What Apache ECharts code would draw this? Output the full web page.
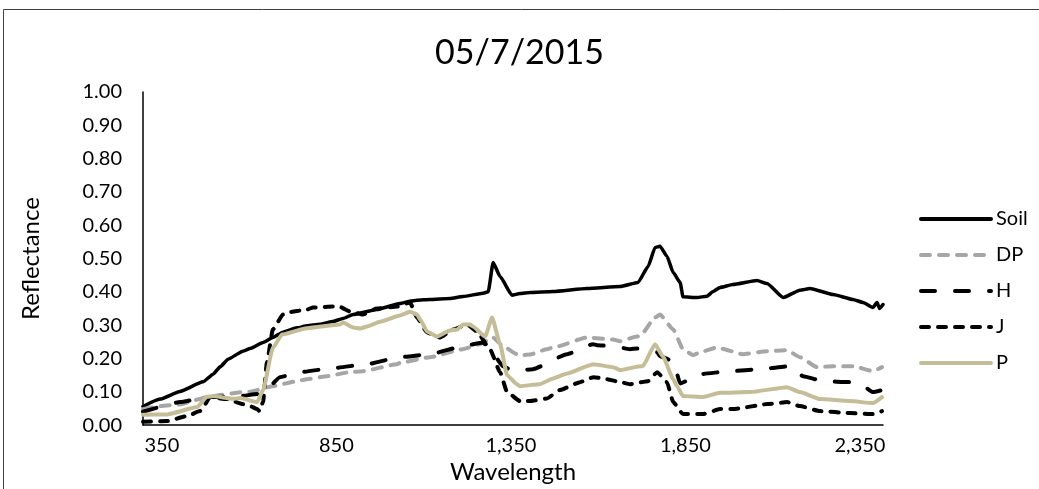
<!DOCTYPE html>
<html>
<head>
<meta charset="utf-8">
<title>05/7/2015</title>
<script src="https://cdn.jsdelivr.net/npm/echarts@6/dist/echarts.min.js"></script>
<style>
  html, body { margin: 0; padding: 0; background: #fff; }
  #chart { width: 1039px; height: 489px; }
</style>
</head>
<body>
<div id="chart"></div>
<script>
// Reflectance spectra, 05/7/2015 — wavelength (nm) vs reflectance
const xTicks = [350, 850, 1350, 1850, 2350];

const soilWl = [296, 345, 402, 468, 497, 517, 540, 582, 603, 640, 668, 697, 737, 766, 803, 840, 869, 898, 966, 1032, 1061, 1081, 1118, 1175, 1213, 1270, 1285, 1299, 1319, 1353, 1376, 1405, 1471, 1568, 1663, 1714, 1743, 1763, 1777, 1797, 1815, 1835, 1843, 1883, 1912, 1929, 1949, 1986, 2055, 2084, 2130, 2178, 2207, 2273, 2330, 2359, 2387, 2399, 2406, 2416];
const soilR  = [0.056, 0.078, 0.101, 0.130, 0.153, 0.175, 0.198, 0.222, 0.230, 0.248, 0.263, 0.279, 0.292, 0.298, 0.303, 0.311, 0.320, 0.332, 0.347, 0.365, 0.372, 0.375, 0.377, 0.380, 0.386, 0.396, 0.400, 0.488, 0.446, 0.390, 0.395, 0.398, 0.401, 0.410, 0.416, 0.428, 0.476, 0.533, 0.537, 0.507, 0.458, 0.428, 0.385, 0.383, 0.387, 0.401, 0.413, 0.422, 0.434, 0.425, 0.383, 0.405, 0.410, 0.392, 0.377, 0.368, 0.353, 0.368, 0.350, 0.362];

const dpWl = [296, 345, 402, 459, 479, 582, 603, 668, 737, 766, 823, 889, 926, 1024, 1032, 1118, 1213, 1261, 1299, 1327, 1367, 1384, 1405, 1453, 1471, 1568, 1643, 1663, 1711, 1720, 1763, 1777, 1815, 1843, 1872, 1892, 1940, 2015, 2084, 2141, 2178, 2227, 2273, 2330, 2387, 2413];
const dpR  = [0.048, 0.057, 0.062, 0.078, 0.085, 0.099, 0.100, 0.117, 0.132, 0.138, 0.147, 0.159, 0.162, 0.183, 0.187, 0.204, 0.228, 0.243, 0.263, 0.237, 0.213, 0.210, 0.212, 0.228, 0.233, 0.263, 0.257, 0.252, 0.266, 0.267, 0.323, 0.332, 0.287, 0.228, 0.210, 0.219, 0.233, 0.213, 0.222, 0.225, 0.204, 0.174, 0.177, 0.177, 0.162, 0.174];

const hWl = [296, 402, 479, 574, 623, 651, 688, 746, 840, 938, 1032, 1118, 1213, 1270, 1290, 1327, 1356, 1413, 1511, 1585, 1597, 1643, 1691, 1711, 1769, 1777, 1815, 1835, 1892, 1978, 2064, 2150, 2187, 2244, 2322, 2359, 2387, 2413];
const hR  = [0.040, 0.069, 0.084, 0.087, 0.093, 0.108, 0.144, 0.159, 0.171, 0.183, 0.204, 0.213, 0.237, 0.248, 0.228, 0.177, 0.162, 0.168, 0.213, 0.243, 0.240, 0.237, 0.228, 0.230, 0.219, 0.207, 0.192, 0.125, 0.153, 0.162, 0.168, 0.177, 0.147, 0.132, 0.129, 0.117, 0.099, 0.105];

const jWl = [296, 365, 422, 459, 468, 488, 537, 582, 603, 623, 630, 640, 651, 668, 697, 709, 766, 783, 840, 860, 889, 926, 966, 1024, 1061, 1081, 1110, 1147, 1184, 1224, 1253, 1290, 1319, 1339, 1376, 1405, 1453, 1490, 1548, 1587, 1625, 1663, 1691, 1743, 1769, 1797, 1815, 1843, 1900, 1949, 1986, 2084, 2141, 2178, 2236, 2322, 2387, 2413];
const jR  = [0.010, 0.012, 0.027, 0.042, 0.054, 0.084, 0.078, 0.063, 0.057, 0.048, 0.042, 0.070, 0.189, 0.287, 0.332, 0.338, 0.347, 0.353, 0.356, 0.355, 0.341, 0.332, 0.350, 0.356, 0.368, 0.323, 0.278, 0.263, 0.287, 0.302, 0.281, 0.228, 0.159, 0.099, 0.072, 0.072, 0.080, 0.105, 0.129, 0.144, 0.138, 0.129, 0.123, 0.132, 0.159, 0.129, 0.069, 0.033, 0.033, 0.048, 0.048, 0.063, 0.069, 0.057, 0.042, 0.036, 0.033, 0.042];

const pWl = [296, 365, 451, 479, 497, 554, 574, 623, 640, 668, 694, 766, 860, 869, 898, 918, 938, 975, 1032, 1061, 1081, 1090, 1110, 1138, 1175, 1196, 1213, 1233, 1241, 1276, 1296, 1319, 1339, 1367, 1376, 1433, 1471, 1511, 1577, 1585, 1643, 1663, 1720, 1728, 1763, 1786, 1815, 1826, 1843, 1900, 1949, 2035, 2141, 2178, 2236, 2322, 2387, 2413];
const pR  = [0.031, 0.032, 0.054, 0.085, 0.087, 0.079, 0.081, 0.069, 0.105, 0.232, 0.272, 0.291, 0.302, 0.308, 0.293, 0.290, 0.296, 0.310, 0.329, 0.340, 0.332, 0.317, 0.281, 0.266, 0.284, 0.287, 0.302, 0.302, 0.296, 0.266, 0.323, 0.243, 0.150, 0.123, 0.117, 0.123, 0.140, 0.155, 0.180, 0.183, 0.174, 0.165, 0.177, 0.177, 0.243, 0.205, 0.138, 0.117, 0.087, 0.084, 0.097, 0.099, 0.114, 0.099, 0.078, 0.072, 0.066, 0.084];

const pairs = (xs, ys) => xs.map((x, i) => [x, ys[i]]);
const FONT = 'Lato';

const lineSeries = (name, xs, ys, color, dash, width) => ({
  name: name,
  type: 'line',
  data: pairs(xs, ys),
  symbol: 'none',
  smooth: 0.15,
  smoothMonotone: 'x',
  lineStyle: { color: color, width: width, type: dash, cap: 'round', join: 'round' },
  itemStyle: { color: color }
});

const chart = echarts.init(document.getElementById('chart'), null, { renderer: 'canvas' });

chart.setOption({
  animation: false,
  backgroundColor: '#fff',
  textStyle: { fontFamily: FONT },
  title: {
    text: '05/7/2015',
    left: 'center',
    top: 31,
    textStyle: { fontFamily: FONT, fontSize: 34, fontWeight: 'normal', color: '#000' }
  },
  legend: {
    orient: 'vertical',
    left: 914,
    top: 204,
    itemWidth: 70,
    itemHeight: 14,
    itemGap: 16,
    itemStyle: { opacity: 0 },
    lineStyle: { width: 4, cap: 'round' },
    textStyle: { fontFamily: FONT, fontSize: 20, color: '#000' },
    data: ['Soil', 'DP', 'H', 'J', 'P']
  },
  grid: { left: 143, right: 156, top: 92, bottom: 63, containLabel: false },
  xAxis: {
    type: 'value',
    min: 296,
    max: 2416,
    name: 'Wavelength',
    nameLocation: 'middle',
    nameGap: 25,
    nameTextStyle: { fontFamily: FONT, fontSize: 24, color: '#000' },
    axisLine: { show: true, lineStyle: { color: '#000', width: 1.5 } },
    axisTick: { show: false },
    splitLine: { show: false },
    axisLabel: {
      customValues: xTicks,
      margin: 10,
      fontFamily: FONT,
      fontSize: 20,
      color: '#000',
      formatter: v => v.toLocaleString('en-US')
    }
  },
  yAxis: {
    type: 'value',
    min: 0,
    max: 1,
    interval: 0.1,
    name: 'Reflectance',
    nameLocation: 'middle',
    nameGap: 100,
    nameTextStyle: { fontFamily: FONT, fontSize: 24, color: '#000' },
    axisLine: { show: true, lineStyle: { color: '#000', width: 1.5 } },
    axisTick: { show: false },
    splitLine: { show: false },
    axisLabel: {
      margin: 21,
      fontFamily: FONT,
      fontSize: 20,
      color: '#000',
      formatter: v => v.toFixed(2)
    }
  },
  graphic: [{
    type: 'rect',
    shape: { x: 3.5, y: 9.5, width: 1100, height: 600 },
    style: { fill: 'none', stroke: '#404040', lineWidth: 1 },
    silent: true,
    z: -1
  }],
  series: [
    lineSeries('Soil', soilWl, soilR, '#000000', 'solid', 3.5),
    lineSeries('DP', dpWl, dpR, '#A6A6A6', [9, 9], 4),
    lineSeries('H', hWl, hR, '#000000', [14, 20], 4),
    lineSeries('J', jWl, jR, '#000000', [8, 9], 4),
    lineSeries('P', pWl, pR, '#C4BD97', 'solid', 4)
  ]
});
</script>
</body>
</html>
